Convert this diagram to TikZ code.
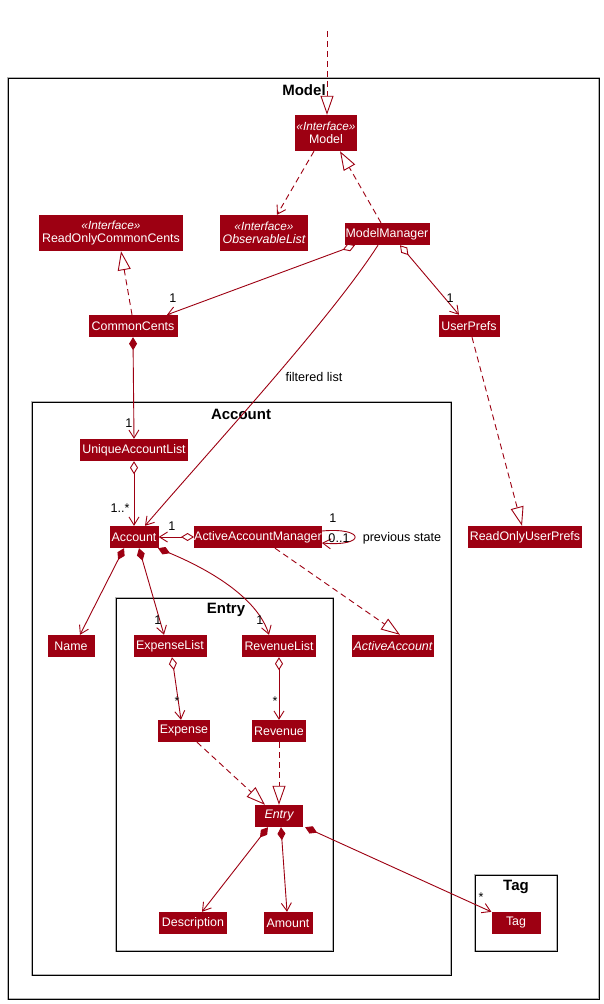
\documentclass[tikz,border=0pt]{standalone}
\usepackage{fontspec}
\setmainfont{Liberation Sans}
\usetikzlibrary{arrows.meta}
\definecolor{mred}{HTML}{9D0012}
\begin{document}
\begin{tikzpicture}[x=1pt,y=-1pt,
  cls/.style={fill=mred,text=white,inner sep=0pt,minimum height=22pt,font=\fontsize{12.4}{14}\selectfont},
  iface/.style={cls,minimum height=36pt,align=center,font=\fontsize{12.4}{13.5}\selectfont},
  mult/.style={inner sep=0pt,font=\fontsize{12.6}{14}\selectfont},
  pkgtitle/.style={inner sep=0pt,font=\fontsize{15}{17}\selectfont\bfseries},
  frame/.style={draw=black,line width=1pt},
  shadow/.style={draw=black!30,line width=2.6pt},
  ln/.style={draw=mred,line width=0.9pt},
  barb/.style={-{Straight Barb[length=8pt,width=10pt]}},
  assoc/.style={ln,barb},
  realize/.style={ln,dash pattern=on 6pt off 4pt,-{Triangle[open,length=19pt,width=13pt,fill=white]}},
  dep/.style={ln,dash pattern=on 6pt off 4pt,barb},
  aggr/.style={ln,{Diamond[open,length=13pt,width=8pt,fill=white]}-{Straight Barb[length=8pt,width=10pt]}},
  comp/.style={ln,{Diamond[length=13pt,width=8pt]}-{Straight Barb[length=8pt,width=10pt]}}
]
\useasboundingbox (0,0) rectangle (604,1004);
\fill[white] (0,0) rectangle (604,1004);

% package frames
\draw[shadow] (8,78) rectangle (599,999);
\draw[frame] (8,78) rectangle (599,999);
\draw[shadow] (32,402) rectangle (451,975);
\draw[frame] (32,402) rectangle (451,975);
\draw[shadow] (116,598) rectangle (333,951);
\draw[frame] (116,598) rectangle (333,951);
\draw[shadow] (475,875) rectangle (557,951);
\draw[frame] (475,875) rectangle (557,951);
\node[pkgtitle] (tModel) at (304,90) {Model};
\node[pkgtitle] (tAccount) at (241,414) {Account};
\node[pkgtitle] (tEntry) at (226,610) {Entry};
\node[pkgtitle] (tTag) at (516,887) {Tag};

% classes
\newcommand{\stereo}{{\fontsize{11.8}{13}\selectfont\itshape «Interface»}}
\node[iface,minimum width=62pt] (model) at (326,133) {\stereo\\Model};
\node[iface,minimum width=88pt] (obs) at (264,233) {\stereo\\\itshape ObservableList};
\node[iface,minimum width=144pt] (rocc) at (111,233) {\stereo\\ReadOnlyCommonCents};
\node[cls,minimum width=85pt] (mm) at (387,234) {ModelManager};
\node[cls,minimum width=89pt] (cc) at (133,326) {CommonCents};
\node[cls,minimum width=61pt] (up) at (469,326) {UserPrefs};
\node[cls,minimum width=108pt] (ual) at (134,450) {UniqueAccountList};
\node[cls,minimum width=49pt] (acc) at (134,537) {Account};
\node[cls,minimum width=127pt] (aam) at (258,537) {ActiveAccountManager};
\node[cls,minimum width=114pt] (roup) at (525,537) {ReadOnlyUserPrefs};
\node[cls,minimum width=47pt] (name) at (71,646) {Name};
\node[cls,minimum width=73pt] (el) at (170,646) {ExpenseList};
\node[cls,minimum width=74pt] (rl) at (279,646) {RevenueList};
\node[cls,minimum width=82pt,font=\fontsize{12.4}{14}\selectfont\itshape] (aa) at (393,646) {ActiveAccount};
\node[cls,minimum width=52pt] (exp) at (184,731) {Expense};
\node[cls,minimum width=54pt] (rev) at (279,731) {Revenue};
\node[cls,minimum width=48pt,font=\fontsize{12.4}{14}\selectfont\itshape] (entry) at (279,816) {Entry};
\node[cls,minimum width=68pt] (desc) at (193,923) {Description};
\node[cls,minimum width=49pt] (amt) at (288,923) {Amount};
\node[cls,minimum width=49pt] (tag) at (516,923) {Tag};

% connectors
\coordinate (top) at (327,31);
\draw[realize] (top) -- ([xshift=1pt]model.north);
\draw[dep] ([xshift=-12pt]model.south) -- ([xshift=13pt]obs.north);
\draw[realize] ([xshift=-6pt]mm.north) -- ([xshift=14pt]model.south);
\draw[realize] ([xshift=-1pt]cc.north) -- ([xshift=10pt]rocc.south);
\draw[aggr] ([xshift=-32pt]mm.south) -- ([xshift=34pt]cc.north);
\node[mult] (m1) at (173,298) {1};
\draw[assoc] ([xshift=-9pt]mm.south) .. controls (330,320) and (210,450) .. ([xshift=11pt]acc.north);
\node[mult] (fl) at (314,377) {filtered list};
\draw[aggr] ([xshift=13pt]mm.south) -- ([xshift=-10pt]up.north);
\node[mult] (m2) at (450,298) {1};
\draw[realize] ([xshift=3pt]up.south) -- ([xshift=-3pt]roup.north);
\draw[comp] (cc.south) -- (ual.north);
\node[mult] (m3) at (129,423) {1};
\draw[aggr] (ual.south) -- (acc.north);
\node[mult] (m4) at (120,508) {1..*};
\draw[aggr] (aam.west) -- (acc.east);
\node[mult] (m5) at (172,526) {1};
\draw[assoc] ([yshift=6pt]aam.east) .. controls +(44,-4) and +(44,4) .. ([yshift=-6pt]aam.east);
\node[mult] (m6) at (333,518) {1};
\node[mult] (m7) at (339,538) {0..1};
\node[mult] (ps) at (402,538) {previous state};
\draw[realize] ([xshift=17pt]aam.south) -- ([xshift=7pt]aa.north);
\draw[comp] ([xshift=-10pt]acc.south) -- ([xshift=9pt]name.north);
\draw[comp] ([xshift=5pt]acc.south) -- ([xshift=-6pt]el.north);
\node[mult] (m8) at (158,620) {1};
\draw[comp] ([xshift=24pt]acc.south) .. controls (215,572) and (258,600) .. ([xshift=-10pt]rl.north);
\node[mult] (m9) at (260,620) {1};
\draw[aggr] ([xshift=2pt]el.south) -- ([xshift=-3pt]exp.north);
\node[mult] (m10) at (177,701) {*};
\draw[aggr] (rl.south) -- (rev.north);
\node[mult] (m11) at (275,701) {*};
\draw[realize] ([xshift=13pt]exp.south) -- ([xshift=-14pt]entry.north);
\draw[realize] (rev.south) -- (entry.north);
\draw[comp] ([xshift=-11pt]entry.south) -- ([xshift=9pt]desc.north);
\draw[comp] ([xshift=2pt]entry.south) -- ([xshift=-1pt]amt.north);
\draw[comp] ([xshift=2pt]entry.south east) -- (tag.north west);
\node[mult] (m12) at (481,897) {*};
\end{tikzpicture}
\end{document}
